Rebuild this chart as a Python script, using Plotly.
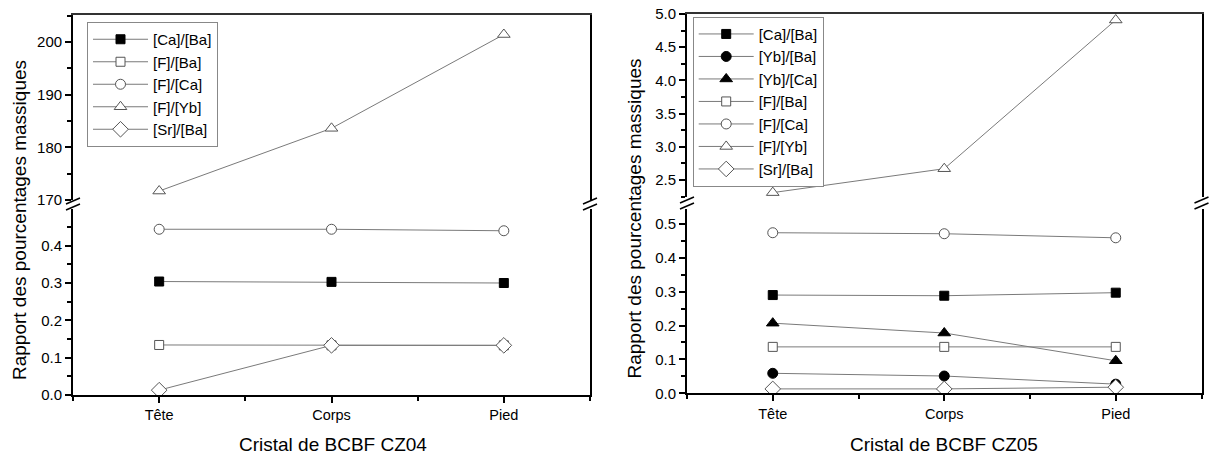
import plotly.graph_objects as go

W, H = 1209, 455

categories = ["Tête", "Corps", "Pied"]

# ---- Panel 1: CZ04 ----
cz04_ca_ba = [0.304, 0.303, 0.300]
cz04_f_ba = [0.134, 0.133, 0.133]
cz04_f_ca = [0.444, 0.444, 0.440]
cz04_f_yb = [171.7, 183.6, 201.4]
cz04_sr_ba = [0.013, 0.133, 0.133]

# ---- Panel 2: CZ05 ----
cz05_ca_ba = [0.290, 0.288, 0.297]
cz05_yb_ba = [0.059, 0.051, 0.027]
cz05_yb_ca = [0.207, 0.178, 0.096]
cz05_f_ba = [0.137, 0.137, 0.137]
cz05_f_ca = [0.474, 0.471, 0.459]
cz05_f_yb = [2.31, 2.67, 4.91]
cz05_sr_ba = [0.013, 0.013, 0.018]

xpos = [i + 1 for i in range(len(categories))]

FONT = "Arial, Liberation Sans, sans-serif"
LINE_C = "#7a7a7a"
EDGE_C = "#555555"

def px_x(p):
    return p / W

def px_y(p):
    return 1 - p / H

STYLES = {
    "sq_f": dict(symbol="square", color="black", line=dict(color="black", width=1), size=9),
    "ci_f": dict(symbol="circle", color="black", line=dict(color="black", width=1), size=10),
    "tr_f": dict(symbol="triangle-up", color="black", line=dict(color="black", width=1), size=11),
    "sq_o": dict(symbol="square", color="white", line=dict(color=EDGE_C, width=1), size=9),
    "ci_o": dict(symbol="circle", color="white", line=dict(color=EDGE_C, width=1), size=10),
    "tr_o": dict(symbol="triangle-up", color="white", line=dict(color=EDGE_C, width=1), size=11),
    "di_o": dict(symbol="diamond", color="white", line=dict(color=EDGE_C, width=1), size=12),
}

fig = go.Figure()

def add(name, vals, style, xa, ya, legend):
    fig.add_trace(go.Scatter(
        x=xpos, y=vals, name=name, mode="lines+markers",
        line=dict(color=LINE_C, width=1),
        marker=STYLES[style],
        xaxis=xa, yaxis=ya, legend=legend,
    ))

# Panel 1 (lower: x/y, upper: x2/y2)
add("[Ca]/[Ba]", cz04_ca_ba, "sq_f", "x", "y", "legend")
add("[F]/[Ba]", cz04_f_ba, "sq_o", "x", "y", "legend")
add("[F]/[Ca]", cz04_f_ca, "ci_o", "x", "y", "legend")
add("[F]/[Yb]", cz04_f_yb, "tr_o", "x2", "y2", "legend")
add("[Sr]/[Ba]", cz04_sr_ba, "di_o", "x", "y", "legend")

# Panel 2 (lower: x3/y3, upper: x4/y4)
add("[Ca]/[Ba]", cz05_ca_ba, "sq_f", "x3", "y3", "legend2")
add("[Yb]/[Ba]", cz05_yb_ba, "ci_f", "x3", "y3", "legend2")
add("[Yb]/[Ca]", cz05_yb_ca, "tr_f", "x3", "y3", "legend2")
add("[F]/[Ba]", cz05_f_ba, "sq_o", "x3", "y3", "legend2")
add("[F]/[Ca]", cz05_f_ca, "ci_o", "x3", "y3", "legend2")
add("[F]/[Yb]", cz05_f_yb, "tr_o", "x4", "y4", "legend2")
add("[Sr]/[Ba]", cz05_sr_ba, "di_o", "x3", "y3", "legend2")

tickfont = dict(family=FONT, size=15, color="black")
catfont = dict(family=FONT, size=14.5, color="black")

def xaxis_lower(domain, anchor):
    return dict(domain=domain, anchor=anchor, range=[0.5, 3.5],
                tickmode="array", tickvals=xpos, ticktext=categories,
                ticks="outside", ticklen=6, tickwidth=1.5, tickcolor="black",
                tickfont=catfont, showline=True, linecolor="black", linewidth=1.8,
                showgrid=False, zeroline=False, automargin=False,
                minor=dict(tickvals=[0.5, 1.5, 2.5, 3.5], ticks="outside", ticklen=4,
                           tickwidth=1.5, tickcolor="black", showgrid=False))

def xaxis_upper(domain, anchor, match):
    return dict(domain=domain, anchor=anchor, range=[0.5, 3.5], matches=match,
                side="top", showticklabels=False, ticks="", showline=True,
                linecolor="#333333", linewidth=1.5, showgrid=False, zeroline=False,
                automargin=False)

def yaxis(domain, anchor, rng, tickvals, minorvals, fmt):
    return dict(domain=domain, anchor=anchor, range=rng,
                tickmode="array", tickvals=tickvals,
                ticktext=[fmt.format(v) for v in tickvals],
                ticks="outside", ticklen=6, tickwidth=1.5, tickcolor="black",
                tickfont=tickfont, showline=True, mirror=True, linecolor="black",
                linewidth=1.8, showgrid=False, zeroline=False, automargin=False,
                minor=dict(tickvals=minorvals, ticks="outside", ticklen=4,
                           tickwidth=1.5, tickcolor="black", showgrid=False))

# Panel geometry (pixels)
p1_x = [px_x(73), px_x(590)]
p1_low = [px_y(395), px_y(208.5)]
p1_up = [px_y(200), px_y(15)]
p2_x = [px_x(687), px_x(1201.5)]
p2_low = [px_y(393.3), px_y(209)]
p2_up = [px_y(197), px_y(14)]

fig.update_layout(
    xaxis=xaxis_lower(p1_x, "y"),
    xaxis2=xaxis_upper(p1_x, "y2", "x"),
    xaxis3=xaxis_lower(p2_x, "y3"),
    xaxis4=xaxis_upper(p2_x, "y4", "x3"),
    yaxis=yaxis(p1_low, "x", [0, 0.4996], [0, 0.1, 0.2, 0.3, 0.4],
                [0.05, 0.15, 0.25, 0.35, 0.45], "{:.1f}"),
    yaxis2=yaxis(p1_up, "x2", [170, 205.1], [170, 180, 190, 200],
                 [175, 185, 195, 205], "{:.0f}"),
    yaxis3=yaxis(p2_low, "x3", [0, 0.544], [0, 0.1, 0.2, 0.3, 0.4, 0.5],
                 [0.05, 0.15, 0.25, 0.35, 0.45], "{:.1f}"),
    yaxis4=yaxis(p2_up, "x4", [2.244, 5.0], [2.5, 3.0, 3.5, 4.0, 4.5, 5.0],
                 [2.25, 2.75, 3.25, 3.75, 4.25, 4.75], "{:.1f}"),
)

legend_common = dict(bgcolor="white", bordercolor="#888888", borderwidth=1,
                     font=dict(family=FONT, size=15, color="black"),
                     xanchor="left", yanchor="top", itemwidth=55,
                     traceorder="normal", tracegroupgap=0)
fig.update_layout(
    legend=dict(x=px_x(87), y=px_y(22), **legend_common),
    legend2=dict(x=px_x(692.7), y=px_y(16.7), **legend_common),
)

title_font = dict(family=FONT, size=19, color="black")
ann_common = dict(xref="paper", yref="paper", showarrow=False, font=title_font,
                  xanchor="center", yanchor="middle")
annotations = [
    dict(text="Rapport des pourcentages massiques", x=px_x(19), y=px_y(220),
         textangle=-90, **ann_common),
    dict(text="Rapport des pourcentages massiques", x=px_x(634), y=px_y(218.5),
         textangle=-90, **ann_common),
    dict(text="Cristal de BCBF CZ04", x=px_x(333), y=px_y(444), **ann_common),
    dict(text="Cristal de BCBF CZ05", x=px_x(944), y=px_y(444), **ann_common),
]

# Axis break marks (decorative "//")
shapes = []
for (bx, by) in [(73, 204), (590, 204), (687, 203), (1201.5, 203)]:
    for dy in (-3, 3):
        shapes.append(dict(type="line", xref="paper", yref="paper",
                           x0=px_x(bx - 7), y0=px_y(by + dy + 3),
                           x1=px_x(bx + 7), y1=px_y(by + dy - 3),
                           line=dict(color="black", width=1.5)))

fig.update_layout(
    width=W, height=H,
    margin=dict(l=0, r=0, t=0, b=0, pad=0, autoexpand=False),
    paper_bgcolor="white", plot_bgcolor="white",
    annotations=annotations, shapes=shapes, showlegend=True,
)

fig.write_html("out.html",
               config={"displayModeBar": False},
               post_script="document.body.style.margin='0px';"
                           "document.body.style.overflow='hidden';")
